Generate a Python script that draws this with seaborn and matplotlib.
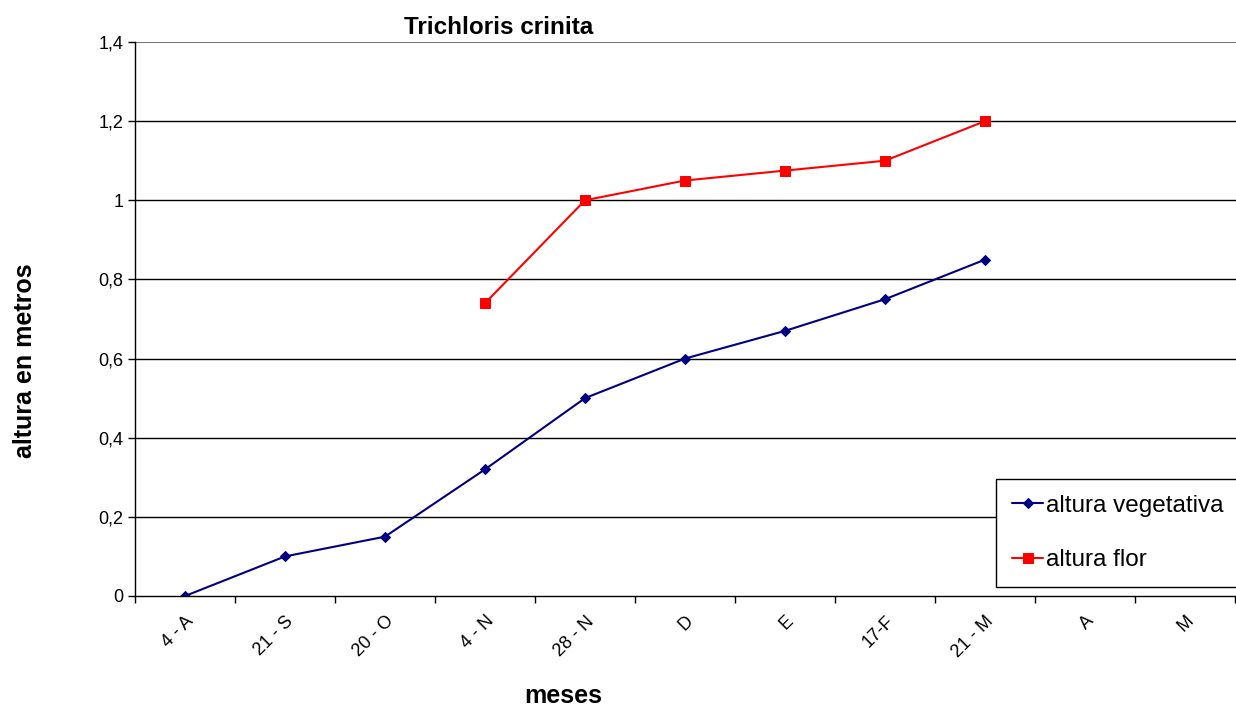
import numpy as np
import pandas as pd
import matplotlib
matplotlib.use("Agg")
import matplotlib.pyplot as plt
import seaborn as sns
from matplotlib.ticker import FixedLocator, FuncFormatter

sns.set_style("white")
plt.rcParams['font.family'] = ['Liberation Sans', 'DejaVu Sans']
plt.rcParams['text.color'] = 'black'
plt.rcParams['axes.labelcolor'] = 'black'
plt.rcParams['xtick.color'] = 'black'
plt.rcParams['ytick.color'] = 'black'

meses = ['4 - A', '21 - S', '20 - O', '4 - N', '28 - N', 'D', 'E', '17-F', '21 - M', 'A', 'M']
altura_vegetativa = [0, 0.1, 0.15, 0.32, 0.5, 0.6, 0.67, 0.75, 0.85, np.nan, np.nan]
altura_flor = [np.nan, np.nan, np.nan, 0.74, 1.0, 1.05, 1.075, 1.1, 1.2, np.nan, np.nan]

df = pd.DataFrame({
    'pos': np.arange(len(meses)),
    'altura vegetativa': altura_vegetativa,
    'altura flor': altura_flor,
})

fig = plt.figure(figsize=(12.36, 7.08), dpi=100)
ax = fig.add_axes([135 / 1236, 112 / 708, 1101 / 1236, 554 / 708])

for y in [0.2, 0.4, 0.6, 0.8, 1.0, 1.2]:
    ax.axhline(y, color='black', linewidth=1, zorder=0)
ax.axhline(1.4, color='#777777', linewidth=1.5, zorder=0)

veg = df.dropna(subset=['altura vegetativa'])
flor = df.dropna(subset=['altura flor'])
sns.lineplot(data=veg, x='pos', y='altura vegetativa', ax=ax, color='#000080',
             marker='D', markersize=5, markeredgecolor='#000080', linewidth=1.5,
             label='altura vegetativa')
sns.lineplot(data=flor, x='pos', y='altura flor', ax=ax, color='#ff0000',
             marker='s', markersize=7, markeredgecolor='#ff0000', linewidth=1.5,
             label='altura flor')

ax.set_xlim(-0.5, len(meses) - 0.5 + 0.01)
ax.set_ylim(0, 1.4)
ax.set_yticks([0, 0.2, 0.4, 0.6, 0.8, 1.0, 1.2, 1.4])
ax.yaxis.set_major_formatter(FuncFormatter(lambda v, p: ('%g' % round(v, 1)).replace('.', ',')))
ax.set_xticks(np.arange(len(meses)))
ax.set_xticklabels(meses, rotation=45, ha='right', rotation_mode='anchor', fontsize=13)
ax.xaxis.set_minor_locator(FixedLocator(np.arange(-0.5, len(meses), 1.0)))
ax.tick_params(axis='x', which='major', length=0, pad=12)
ax.tick_params(axis='x', which='minor', length=5, direction='out', color='black', width=1, bottom=True)
ax.tick_params(axis='y', length=5, direction='out', color='black', width=1, left=True, labelsize=13)

for s in ['top', 'right']:
    ax.spines[s].set_visible(False)
for s in ['left', 'bottom']:
    ax.spines[s].set_color('black')
    ax.spines[s].set_linewidth(1)

ax.set_xlabel('meses', fontsize=18, fontweight='bold')
ax.xaxis.set_label_coords(0.389, -0.158)
ax.set_ylabel('altura en metros', fontsize=18, fontweight='bold')
ax.yaxis.set_label_coords(-0.089, 0.424)
ax.set_title('Trichloris crinita', fontsize=17.5, fontweight='bold', x=0.33, pad=6)

leg = ax.legend(loc='lower left', bbox_to_anchor=(0.782, 0.016), fontsize=17.5,
                frameon=True, fancybox=False, edgecolor='black', framealpha=1,
                handlelength=1.3, handletextpad=0.1, labelspacing=1.35,
                borderpad=0.65, borderaxespad=0)
leg.get_frame().set_linewidth(1)

fig.savefig('out.png', dpi=100)
